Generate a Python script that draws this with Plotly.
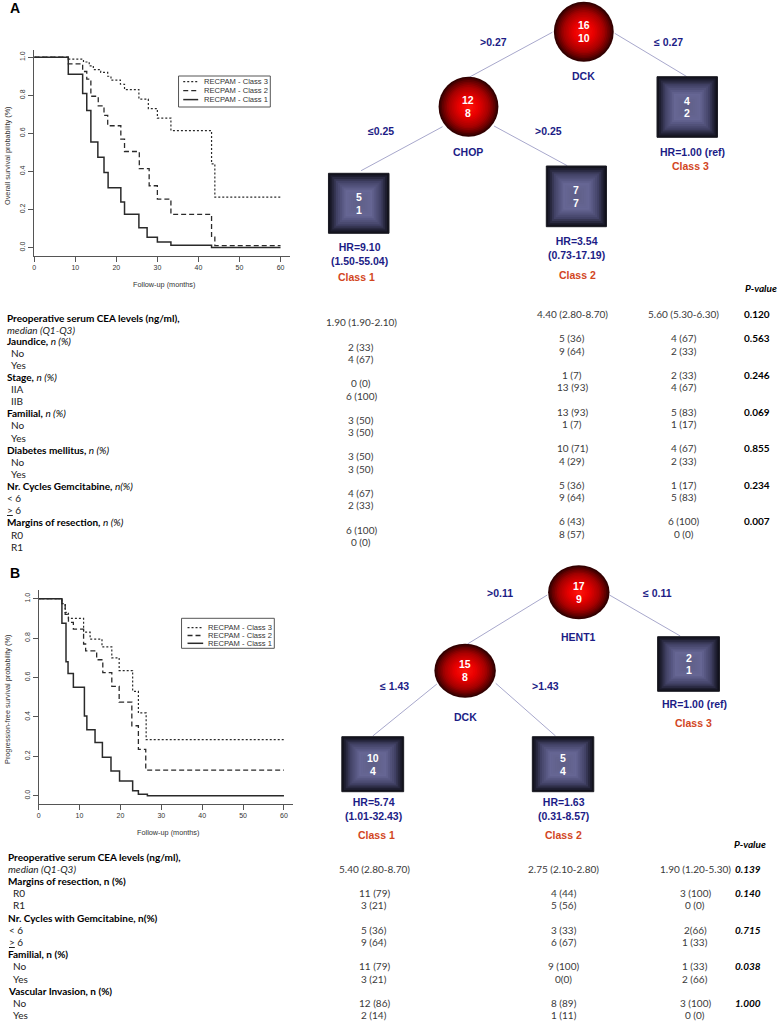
import plotly.graph_objects as go

W, H = 778, 1022
def X(px): return px / W
def Y(py): return 1 - py / H

# ---------------- DATA ----------------
month_ticks = [0, 10, 20, 30, 40, 50, 60]
prob_ticks = [0.0, 0.2, 0.4, 0.6, 0.8, 1.0]
prob_labels = ["0.0", "0.2", "0.4", "0.6", "0.8", "1.0"]
legend_names = ["RECPAM - Class 3", "RECPAM - Class 2", "RECPAM - Class 1"]

# Panel A - overall survival
os_c1_time = [0, 8.3, 11.8, 12.8, 13.8, 15.5, 17.0, 18.0, 21.1, 22.0, 25.5, 27.5, 30.0, 33.3, 43.2, 60]
os_c1_surv = [1.0, 0.91, 0.81, 0.72, 0.555, 0.475, 0.395, 0.315, 0.24, 0.175, 0.105, 0.055, 0.03, 0.012, 0.0, 0.0]
os_c2_time = [0, 8.3, 11.8, 12.8, 13.8, 15.6, 17.0, 17.9, 21.1, 22.0, 25.6, 28.0, 30.0, 33.3, 43.2, 44.0, 60]
os_c2_surv = [1.0, 0.965, 0.925, 0.885, 0.795, 0.745, 0.695, 0.64, 0.57, 0.505, 0.415, 0.325, 0.255, 0.175, 0.055, 0.01, 0.01]
os_c3_time = [0, 8.3, 12.0, 13.4, 14.4, 16.2, 17.9, 18.7, 21.0, 22.0, 25.5, 27.8, 30.0, 33.3, 43.2, 44.0, 60]
os_c3_surv = [1.0, 0.99, 0.975, 0.955, 0.935, 0.92, 0.9, 0.88, 0.858, 0.83, 0.78, 0.73, 0.68, 0.615, 0.44, 0.265, 0.265]

# Panel B - progression-free survival
pfs_c1_time = [0, 5.7, 6.7, 7.2, 8.5, 11.2, 11.8, 13.8, 15.6, 17.7, 19.8, 23.0, 24.4, 26.6, 60]
pfs_c1_surv = [1.0, 0.875, 0.68, 0.62, 0.55, 0.405, 0.335, 0.27, 0.195, 0.125, 0.075, 0.025, 0.008, 0.0, 0.0]
pfs_c2_time = [0, 5.7, 6.5, 7.3, 8.5, 11.0, 11.5, 14.2, 15.7, 17.9, 19.7, 22.8, 24.4, 26.2, 60]
pfs_c2_surv = [1.0, 0.97, 0.92, 0.88, 0.845, 0.77, 0.735, 0.69, 0.625, 0.555, 0.475, 0.355, 0.235, 0.13, 0.13]
pfs_c3_time = [0, 5.7, 6.5, 7.3, 11.0, 12.6, 15.5, 17.9, 19.7, 23.0, 24.4, 26.3, 60]
pfs_c3_surv = [1.0, 0.975, 0.93, 0.9, 0.83, 0.795, 0.755, 0.7, 0.635, 0.53, 0.42, 0.285, 0.285]

# Trees: (n, events)
treeA_split_nodes = [("DCK", 16, 10), ("CHOP", 12, 8)]
treeA_split_rules = [">0.27", "\u2264 0.27", "\u22640.25", ">0.25"]
treeA_leaves = [(5, 1), (7, 7), (4, 2)]
treeA_hr = ["HR=9.10<br>(1.50-55.04)", "HR=3.54<br>(0.73-17.19)", "HR=1.00 (ref)"]
treeB_split_nodes = [("HENT1", 17, 9), ("DCK", 15, 8)]
treeB_split_rules = [">0.11", "\u2264 0.11", "\u2264 1.43", ">1.43"]
treeB_leaves = [(10, 4), (5, 4), (2, 1)]
treeB_hr = ["HR=5.74<br>(1.01-32.43)", "HR=1.63<br>(0.31-8.57)", "HR=1.00 (ref)"]
class_labels = ["Class 1", "Class 2", "Class 3"]

# Table A
tabA_rows = [
    ("<b>Preoperative serum CEA levels (ng/ml),</b>", 0),
    ("<i>median (Q1-Q3)</i>", 0),
    ("<b>Jaundice,</b> <i>n (%)</i>", 0), ("No", 1), ("Yes", 1),
    ("<b>Stage,</b> <i>n (%)</i>", 0), ("IIA", 1), ("IIB", 1),
    ("<b>Familial,</b> <i>n (%)</i>", 0), ("No", 1), ("Yes", 1),
    ("<b>Diabetes mellitus,</b> <i>n (%)</i>", 0), ("No", 1), ("Yes", 1),
    ("<b>Nr. Cycles Gemcitabine,</b> <i>n(%)</i>", 0), ("&lt; 6", 0), ("<u>&gt;</u> 6", 0),
    ("<b>Margins of resection,</b> <i>n (%)</i>", 0), ("R0", 1), ("R1", 1),
]
tabA_cea = ["1.90 (1.90-2.10)", "4.40 (2.80-8.70)", "5.60 (5.30-6.30)"]
tabA_cea_p = "0.120"
tabA_class1 = [["2 (33)", "4 (67)"], ["0 (0)", "6 (100)"], ["3 (50)", "3 (50)"],
               ["3 (50)", "3 (50)"], ["4 (67)", "2 (33)"], ["6 (100)", "0 (0)"]]
tabA_class2 = [["5 (36)", "9 (64)"], ["1 (7)", "13 (93)"], ["13 (93)", "1 (7)"],
               ["10 (71)", "4 (29)"], ["5 (36)", "9 (64)"], ["6 (43)", "8 (57)"]]
tabA_class3 = [["4 (67)", "2 (33)"], ["2 (33)", "4 (67)"], ["5 (83)", "1 (17)"],
               ["4 (67)", "2 (33)"], ["1 (17)", "5 (83)"], ["6 (100)", "0 (0)"]]
tabA_p = ["0.563", "0.246", "0.069", "0.855", "0.234", "0.007"]

# Table B
tabB_rows = [
    ("<b>Preoperative serum CEA levels (ng/ml),</b>", 0),
    ("<i>median (Q1-Q3)</i>", 0),
    ("<b>Margins of resection, n (%)</b>", 0), ("R0", 1), ("R1", 1),
    ("<b>Nr. Cycles with Gemcitabine, n(%)</b>", 0), ("&lt; 6", 0), ("<u>&gt;</u> 6", 0),
    ("<b>Familial, n (%)</b>", 0), ("No", 1), ("Yes", 1),
    ("<b>Vascular Invasion, n (%)</b>", 0), ("No", 1), ("Yes", 1),
]
tabB_cea = ["5.40 (2.80-8.70)", "2.75 (2.10-2.80)", "1.90 (1.20-5.30)"]
tabB_cea_p = "0.139"
tabB_class1 = [["11 (79)", "3 (21)"], ["5 (36)", "9 (64)"], ["11 (79)", "3 (21)"], ["12 (86)", "2 (14)"]]
tabB_class2 = [["4 (44)", "5 (56)"], ["3 (33)", "6 (67)"], ["9 (100)", "0(0)"], ["8 (89)", "1 (11)"]]
tabB_class3 = [["3 (100)", "0 (0)"], ["2(66)", "1 (33)"], ["1 (33)", "2 (66)"], ["3 (100)", "0 (0)"]]
tabB_p = ["0.140", "0.715", "0.038", "1.000"]

# ---------------- STYLE ----------------
KM_FONT = "Liberation Sans, Arial, sans-serif"
TREE_FONT = "Liberation Sans, Arial, sans-serif"
TAB_FONT = "Lato, Carlito, sans-serif"
NAVY = "#1c1c86"
ORANGE = "#d2461e"
INK = "#2a2a2a"
TAB_INK = "#3a3a3a"

fig = go.Figure()
shapes = []
anns = []

def ann(x, y, text, size=10, color="black", family=TAB_FONT, xanchor="center", angle=0):
    anns.append(dict(x=X(x), y=Y(y), xref="paper", yref="paper", text=text, showarrow=False,
                     xanchor=xanchor, yanchor="middle", textangle=angle, borderpad=0,
                     font=dict(size=size, color=color, family=family)))

# ---------------- KM PLOTS ----------------
line_styles = [dict(dash="2px,2px", width=1.2), dict(dash="5px,3px", width=1.3), dict(dash="solid", width=1.5)]

def km_panel(idx, curves, dom_px, ytop_range, ylab, legend_box):
    xa = "x" if idx == 1 else "x%d" % idx
    ya = "y" if idx == 1 else "y%d" % idx
    for (t, s), st, nm in zip(curves, line_styles, legend_names):
        fig.add_trace(go.Scatter(x=t, y=s, mode="lines", line_shape="hv", name=nm,
                                 line=dict(color=INK, dash=st["dash"], width=st["width"]),
                                 xaxis=xa, yaxis=ya, showlegend=False, hoverinfo="skip"))
    x0, x1, ytop, ybot = dom_px
    axcommon = dict(showgrid=False, zeroline=False, showline=True, linecolor="#555", linewidth=1,
                    ticks="outside", ticklen=5, tickcolor="#555", tickwidth=1,
                    tickfont=dict(size=7, family=KM_FONT, color="#333"))
    fig.layout[("xaxis" if idx == 1 else "xaxis%d" % idx)] = dict(
        domain=[X(x0), X(x1)], range=[0, 62.2], tickvals=month_ticks, anchor=ya, **axcommon)
    fig.layout[("yaxis" if idx == 1 else "yaxis%d" % idx)] = dict(
        domain=[Y(ybot), Y(ytop)], range=ytop_range, tickvals=prob_ticks, ticktext=prob_labels,
        tickangle=-90, anchor=xa, **axcommon)
    # axis titles
    ann((x0 + x1) / 2 + 2, ybot + 28, "Follow-up (months)", size=7.3, color="#333", family=KM_FONT)
    ann(5, (ytop + ybot) / 2 + 2, ylab, size=7.3, color="#333", family=KM_FONT, angle=-90)
    # legend
    lx0, ly0, lx1, ly1, rows_y, sx0, sx1, tx = legend_box
    shapes.append(dict(type="rect", xref="paper", yref="paper", x0=X(lx0), x1=X(lx1), y0=Y(ly1), y1=Y(ly0),
                       line=dict(color="#555", width=1), fillcolor="white"))
    for ry, st, nm in zip(rows_y, line_styles, legend_names):
        shapes.append(dict(type="line", xref="paper", yref="paper", x0=X(sx0), x1=X(sx1), y0=Y(ry), y1=Y(ry),
                           line=dict(color=INK, dash=st["dash"], width=st["width"])))
        ann(tx, ry, nm, size=7.6, color="#333", family=KM_FONT, xanchor="left")

km_panel(1, [(os_c3_time, os_c3_surv), (os_c2_time, os_c2_surv), (os_c1_time, os_c1_surv)],
         (32.3, 288.3, 50, 256), [-0.044, 1.038], "Overall survival probability (%)",
         (177, 76, 269, 107, [81.7, 90.7, 99.6], 181.7, 196.7, 201.5))
km_panel(2, [(pfs_c3_time, pfs_c3_surv), (pfs_c2_time, pfs_c2_surv), (pfs_c1_time, pfs_c1_surv)],
         (36.7, 291.7, 590, 804), [-0.042, 1.044], "Progression-free survival probability (%)",
         (180, 618.3, 273, 648.3, [627.7, 635.5, 643.3], 186, 201.7, 206))

# ---------------- TREES ----------------
def lerp(stops, r):
    for (r0, c0), (r1, c1) in zip(stops[:-1], stops[1:]):
        if r0 <= r <= r1:
            f = (r - r0) / (r1 - r0) if r1 > r0 else 0
            return "rgb(%d,%d,%d)" % tuple(round(a + (b - a) * f) for a, b in zip(c0, c1))
    return "rgb(%d,%d,%d)" % stops[-1][1]

SPHERE = [(0.0, (255, 25, 15)), (0.35, (235, 0, 0)), (0.7, (165, 0, 0)), (0.9, (95, 0, 0)), (1.0, (50, 0, 0))]
BOX = [(0.0, (95, 95, 135)), (0.45, (102, 102, 148)), (0.75, (66, 66, 102)), (0.93, (30, 30, 48)), (1.0, (18, 18, 28))]

def sphere(cx, cy, rx, ry, n=18):
    for k in range(n):
        r = 1 - k / n
        shapes.append(dict(type="circle", xref="paper", yref="paper",
                           x0=X(cx - rx * r), x1=X(cx + rx * r), y0=Y(cy + ry * r), y1=Y(cy - ry * r),
                           fillcolor=lerp(SPHERE, r), line=dict(width=0)))

def box(x0, y0, x1, y1, n=16):
    cx, cy = (x0 + x1) / 2, (y0 + y1) / 2
    hw, hh = (x1 - x0) / 2, (y1 - y0) / 2
    for k in range(n):
        r = 1 - k / n
        shapes.append(dict(type="rect", xref="paper", yref="paper",
                           x0=X(cx - hw * r), x1=X(cx + hw * r), y0=Y(cy + hh * r), y1=Y(cy - hh * r),
                           fillcolor=lerp(BOX, r), line=dict(width=0)))
    shapes.append(dict(type="rect", xref="paper", yref="paper", x0=X(x0), x1=X(x1), y0=Y(y1), y1=Y(y0),
                       line=dict(color="#1a1a22", width=1), fillcolor="rgba(0,0,0,0)"))

def edge(p, q):
    shapes.append(dict(type="line", xref="paper", yref="paper", x0=X(p[0]), y0=Y(p[1]), x1=X(q[0]), y1=Y(q[1]),
                       line=dict(color="#a8a8cc", width=1)))

def tree(split_nodes, rules, leaves, hrs, geo):
    for e in geo["edges"]:
        edge(*e)
    for (name, n, ev), (cx, cy, rx, ry, ly) in zip(split_nodes, geo["nodes"]):
        sphere(cx, cy, rx, ry)
        ann(cx, cy - 6.3, "<b>%d</b>" % n, size=10.5, color="white", family=TREE_FONT)
        ann(cx, cy + 6.3, "<b>%d</b>" % ev, size=10.5, color="white", family=TREE_FONT)
        ann(cx, ly, "<b>%s</b>" % name, size=10.5, color=NAVY, family=TREE_FONT)
    for rule, (rx_, ry_) in zip(rules, geo["rules"]):
        ann(rx_, ry_, "<b>%s</b>" % rule, size=10.5, color=NAVY, family=TREE_FONT)
    for (n, ev), hr, cl, (bx0, by0, bx1, by1, hx, hy, cx_, cy_) in zip(leaves, hrs, class_labels, geo["leaves"]):
        box(bx0, by0, bx1, by1)
        mx, my = (bx0 + bx1) / 2, (by0 + by1) / 2
        ann(mx, my - 6.3, "<b>%d</b>" % n, size=10.5, color="white", family=TREE_FONT)
        ann(mx, my + 6.3, "<b>%d</b>" % ev, size=10.5, color="white", family=TREE_FONT)
        ann(hx, hy, "<b>%s</b>" % hr, size=10.5, color=NAVY, family=TREE_FONT)
        ann(cx_, cy_, "<b>%s</b>" % cl, size=10.5, color=ORANGE, family=TREE_FONT)

geoA = dict(
    edges=[((551.7, 32.3), (468.3, 77.3)), ((614.3, 33.3), (686.7, 76.7)),
           ((441.7, 126.7), (360, 170.7)), ((493.3, 126), (566.7, 165.7))],
    nodes=[(583.3, 31.7, 30, 30, 76), (467.7, 106.7, 30, 30, 151.7)],
    rules=[(492.7, 42.3), (668.3, 42.3), (380, 130.7), (548.3, 130.7)],
    leaves=[(327.3, 173.3, 388, 233.3, 358, 254, 355, 276.7),
            (545.7, 166, 606, 226.7, 576, 248, 576.7, 275.3),
            (656.7, 76.7, 717.3, 137.3, 692.7, 151.7, 690, 166.3)],
)
geoB = dict(
    edges=[((546.7, 595), (466.7, 644)), ((609, 595), (680, 636)),
           ((436, 684), (371.7, 736)), ((495, 683.3), (555, 736))],
    nodes=[(578.3, 592.3, 30.8, 27, 636.7), (464.3, 670.7, 30.8, 27, 717.3)],
    rules=[(499.3, 593.3), (657.3, 593.3), (393.3, 686), (545, 686)],
    leaves=[(340.7, 736.7, 402.7, 791.7, 372.3, 809, 375, 835),
            (531.7, 736.7, 593.3, 791.7, 563, 809, 563.3, 835),
            (657.3, 636.7, 719.3, 691.3, 694, 704, 693.3, 722.7)],
)
tree(treeA_split_nodes, treeA_split_rules, treeA_leaves, treeA_hr, geoA)
tree(treeB_split_nodes, treeB_split_rules, treeB_leaves, treeB_hr, geoB)

# panel letters
ann(13, 8, "<b>A</b>", size=14, family=TREE_FONT)
ann(13, 573, "<b>B</b>", size=14, family=TREE_FONT)

# ---------------- TABLES ----------------
TS = 10.0
# Table A
rowA_y = [318.3, 330.0] + [340.5 + 12.13 * k for k in range(18)]
for (txt, ind), y in zip(tabA_rows, rowA_y):
    ann(4 + 4 * ind, y, txt, size=TS, color="black" if "<b>" in txt else "#222", xanchor="left")
ann(761, 288.3, "<b><i>P-value</i></b>", size=TS, color="black")
colA_x = [360, 571.7, 683.3]
ann(colA_x[0], 321.7, tabA_cea[0], size=TS, color=TAB_INK)
ann(colA_x[1], 314, tabA_cea[1], size=TS, color=TAB_INK)
ann(colA_x[2], 314, tabA_cea[2], size=TS, color=TAB_INK)
ann(756.7, 314, "<b>%s</b>" % tabA_cea_p, size=TS, color="black")
for g in range(len(tabA_p)):
    h = 339.3 + 12.2 * 3 * g
    for j, v in enumerate(tabA_class1[g]):
        ann(colA_x[0], h + 7.4 + 12.3 * j, v, size=TS, color=TAB_INK)
    for j, v in enumerate(tabA_class2[g]):
        ann(colA_x[1], h - 1 + 12.5 * j, v, size=TS, color=TAB_INK)
    for j, v in enumerate(tabA_class3[g]):
        ann(colA_x[2], h - 1 + 12.5 * j, v, size=TS, color=TAB_INK)
    ann(756.7, h - 1, "<b>%s</b>" % tabA_p[g], size=TS, color="black")

# Table B
rowB_y = [856.7 + 12.18 * k for k in range(len(tabB_rows))]
for (txt, ind), y in zip(tabB_rows, rowB_y):
    ann(5.5 + 5 * ind + (1 if txt.startswith("&lt;") or txt.startswith("<u>") else 0), y, txt,
        size=TS, color="black" if "<b>" in txt else "#222", xanchor="left")
ann(750, 844.3, "<b><i>P-value</i></b>", size=TS, color="black")
colB_x = [373, 563.3, 695]
for c, v in zip(colB_x, tabB_cea):
    ann(c, rowB_y[1] + 0.5, v, size=TS, color=TAB_INK)
ann(734, rowB_y[1] + 0.5, "<b><i>%s</i></b>" % tabB_cea_p, size=TS, color="black", xanchor="left")
for g in range(len(tabB_p)):
    r = 3 + 3 * g
    for col, data in zip(colB_x, [tabB_class1, tabB_class2, tabB_class3]):
        for j, v in enumerate(data[g]):
            ann(col, rowB_y[r + j], v, size=TS, color=TAB_INK)
    ann(734, rowB_y[r], "<b><i>%s</i></b>" % tabB_p[g], size=TS, color="black", xanchor="left")

fig.update_layout(width=W, height=H, margin=dict(l=0, r=0, t=0, b=0),
                  paper_bgcolor="white", plot_bgcolor="white", showlegend=False,
                  shapes=shapes, annotations=anns)
fig.write_html("out.html", config={"displayModeBar": False},
               post_script="document.body.style.margin='0';document.body.style.overflow='hidden';")
